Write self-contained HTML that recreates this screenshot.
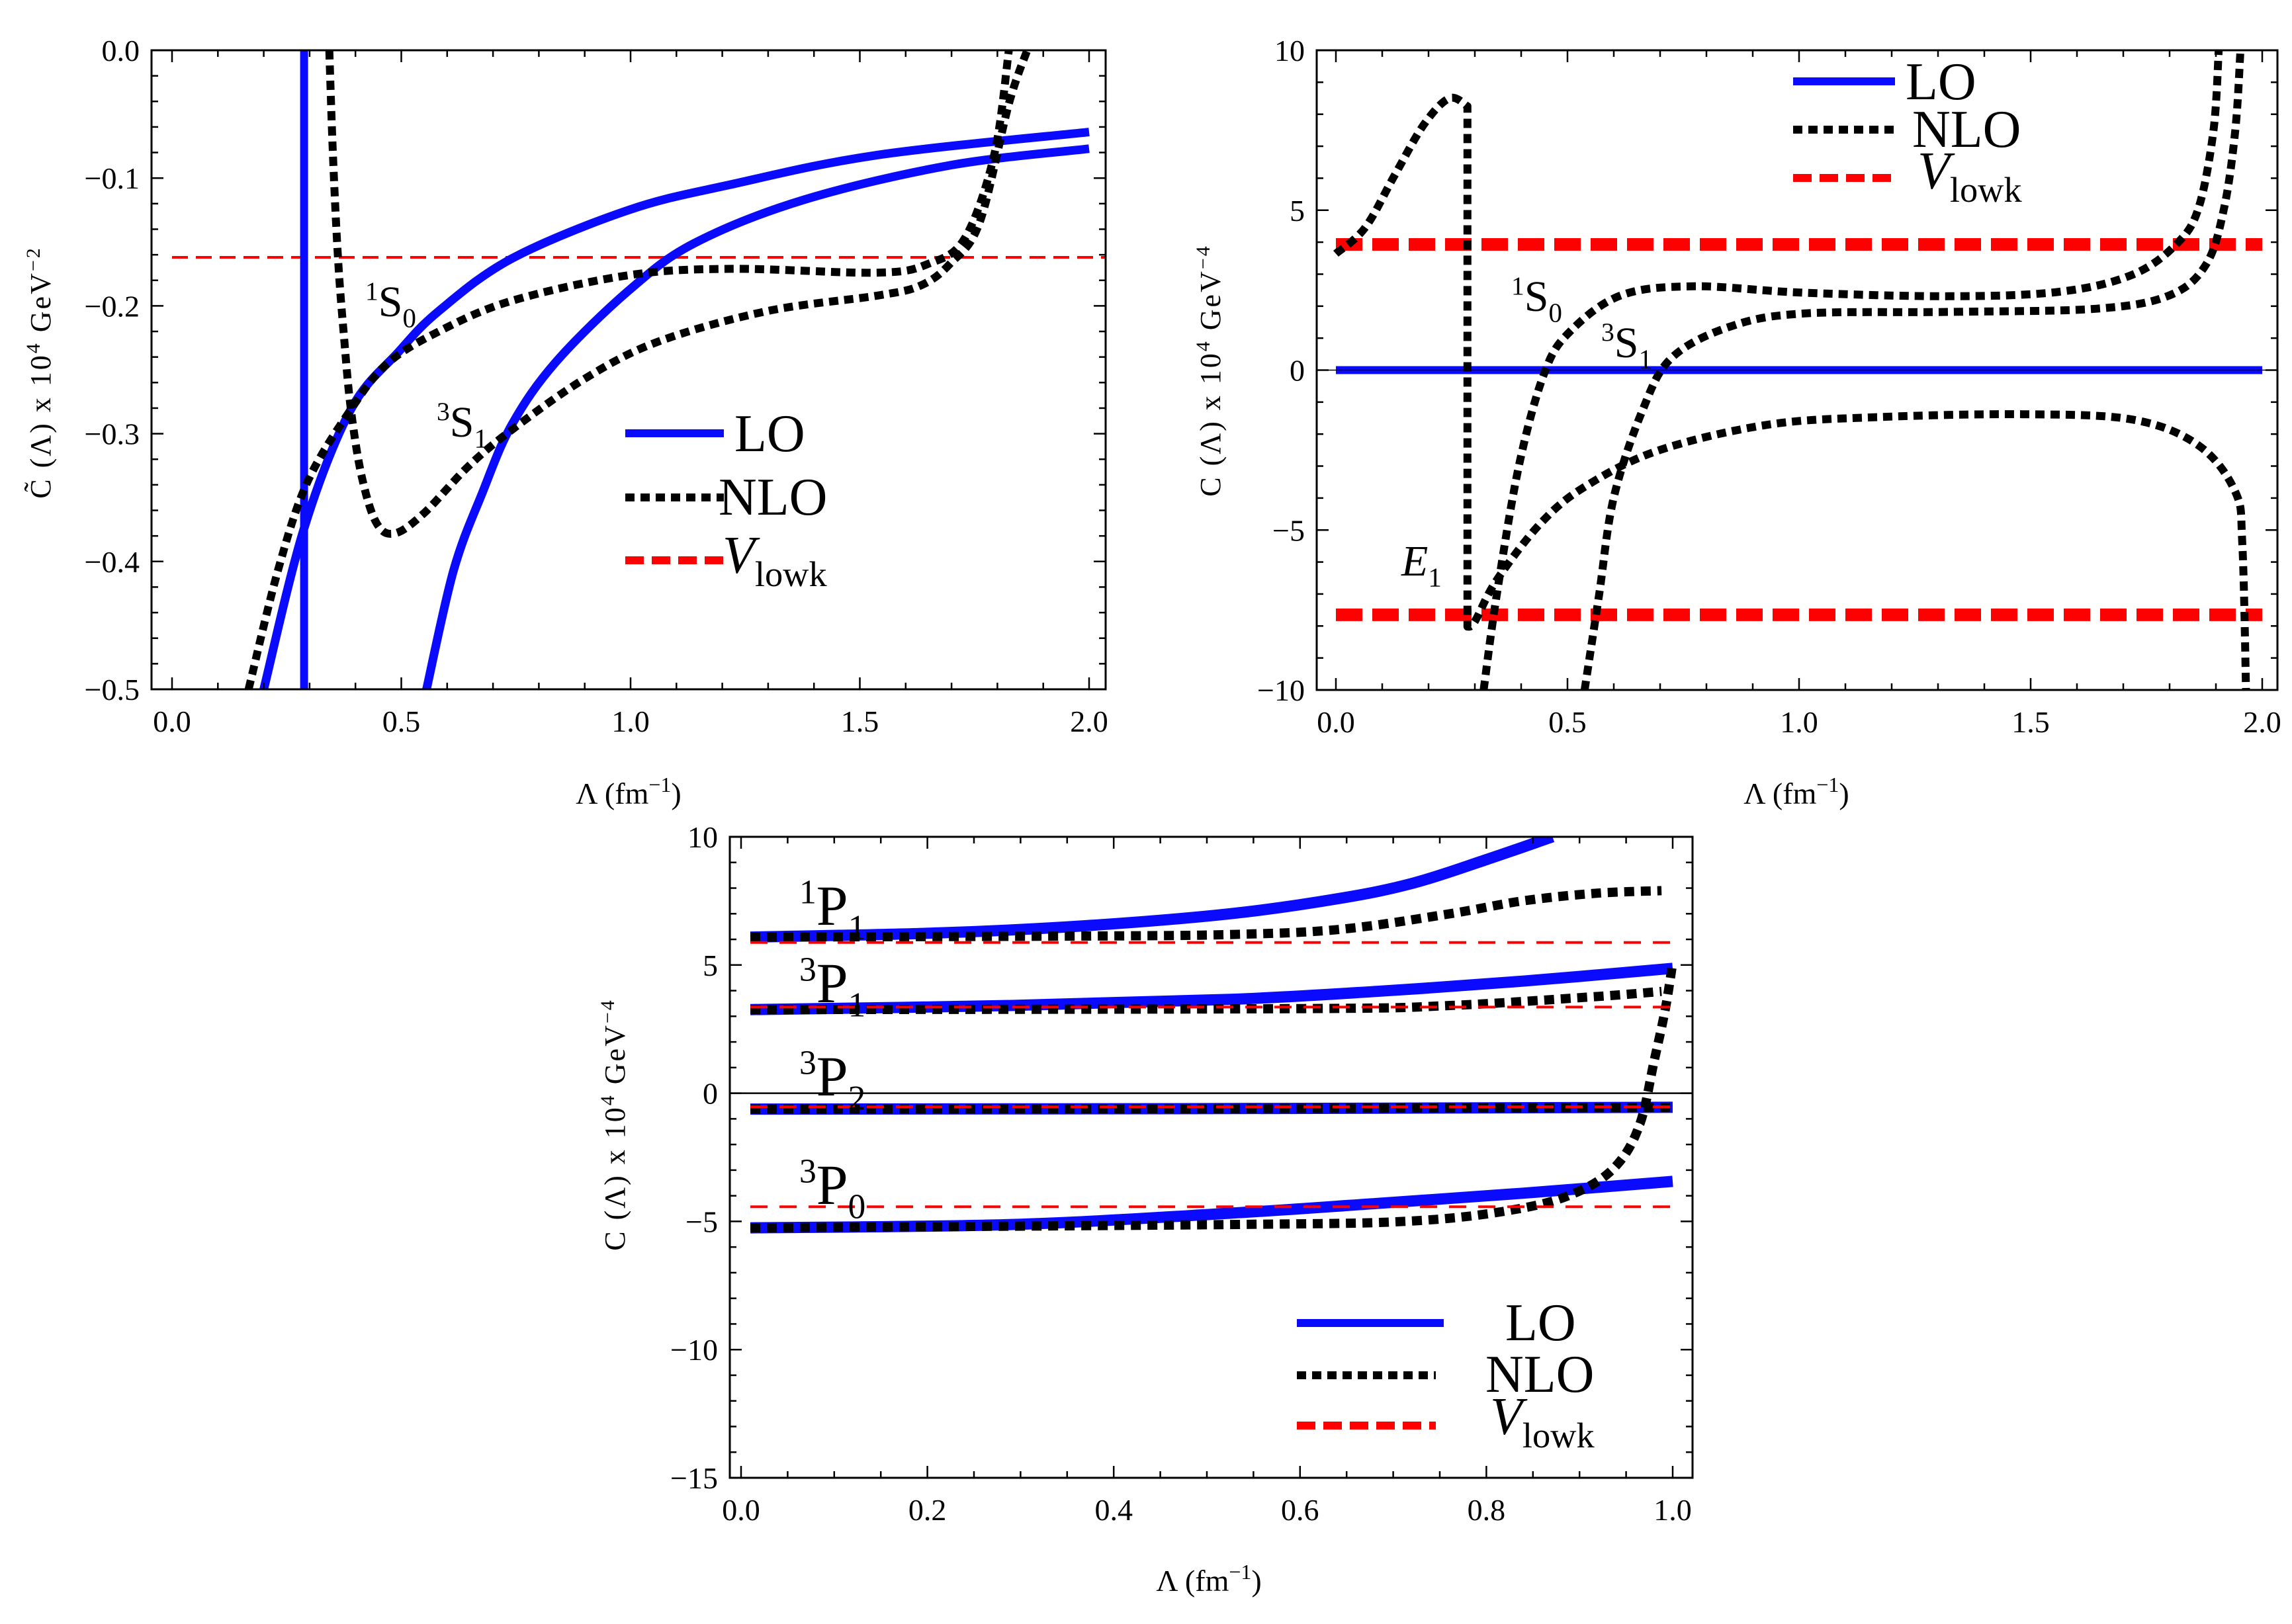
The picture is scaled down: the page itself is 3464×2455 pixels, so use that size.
<!DOCTYPE html>
<html><head><meta charset="utf-8"><style>
html,body{margin:0;padding:0;background:#fff;}
svg{display:block;font-family:"Liberation Serif",serif;}
</style></head><body>
<svg id="chart" width="3464" height="2455" viewBox="0 0 3464 2455" xmlns="http://www.w3.org/2000/svg">
<rect width="3464" height="2455" fill="#fff"/>
</svg>
<script>
// ---------- Panel 1 data (S-wave, C-tilde) ----------
const p1LO_1S0_x=[0.2,0.288,0.39,0.494,0.582,0.741,0.996,1.219,1.538,2.0];
const p1LO_1S0_y=[-0.5,-0.374,-0.281,-0.236,-0.204,-0.163,-0.125,-0.105,-0.082,-0.064];
const p1LO_3S1_x=[0.555,0.614,0.677,0.741,0.837,0.996,1.139,1.378,1.697,2.0];
const p1LO_3S1_y=[-0.5,-0.407,-0.346,-0.293,-0.244,-0.188,-0.151,-0.117,-0.09,-0.077];
const p1LO_pole_x=[0.288,0.288];
const p1LO_pole_y=[0,-0.5];
const p1NLO_1S0_x=[0.167,0.231,0.295,0.39,0.47,0.582,0.741,0.996,1.219,1.538,1.65,1.729,1.793,1.825];
const p1NLO_1S0_y=[-0.5,-0.407,-0.338,-0.281,-0.245,-0.22,-0.196,-0.176,-0.171,-0.174,-0.167,-0.147,-0.082,0];
const p1NLO_3S1_x=[0.343,0.351,0.362,0.375,0.39,0.414,0.446,0.486,0.55,0.645,0.741,0.9,1.06,1.299,1.538,1.633,1.697,1.761,1.825,1.865];
const p1NLO_3S1_y=[0,-0.082,-0.163,-0.224,-0.281,-0.334,-0.37,-0.378,-0.362,-0.326,-0.297,-0.257,-0.228,-0.204,-0.192,-0.184,-0.167,-0.135,-0.042,0];
const p1Vlowk=[-0.162];
const p1XTicks=["0.0","0.5","1.0","1.5","2.0"];
const p1YTicks=["0.0","\u22120.1","\u22120.2","\u22120.3","\u22120.4","\u22120.5"];

// ---------- Panel 2 data ----------
const p2LO_y=[0];
const p2NLO_E1_x=[0,0.063,0.126,0.19,0.245,0.284,0.284,0.3,0.347,0.442,0.537,0.695,0.931,1.168,1.484,1.721,1.863,1.942,1.957,1.965];
const p2NLO_E1_y=[3.64,4.45,6.07,7.68,8.5,8.25,-8.02,-7.86,-6.57,-4.79,-3.65,-2.52,-1.71,-1.47,-1.38,-1.55,-2.36,-3.81,-5.43,-10];
const p2NLO_1S0_x=[0.319,0.347,0.395,0.45,0.505,0.616,0.774,1.01,1.326,1.563,1.721,1.816,1.863,1.895,1.906];
const p2NLO_1S0_y=[-10,-7.05,-3.0,-0.09,1.2,2.34,2.62,2.42,2.31,2.45,2.99,3.96,5.09,7.52,10];
const p2NLO_3S1_x=[0.537,0.568,0.6,0.663,0.726,0.853,1.01,1.326,1.642,1.8,1.879,1.918,1.942,1.953];
const p2NLO_3S1_y=[-10,-7.05,-3.98,-1.22,0.4,1.37,1.77,1.82,1.92,2.34,3.31,5.09,7.52,10];
const p2Vlowk=[3.93,-7.65];
const p2XTicks=["0.0","0.5","1.0","1.5","2.0"];
const p2YTicks=["10","5","0","\u22125","\u221210"];

// ---------- Panel 3 data (P-waves) ----------
const p3LO_1P1_x=[0.01,0.212,0.369,0.525,0.643,0.722,0.8,0.871];
const p3LO_1P1_y=[6.09,6.25,6.53,7.0,7.6,8.2,9.11,10];
const p3NLO_1P1_x=[0.01,0.369,0.525,0.643,0.761,0.839,0.918,0.988];
const p3NLO_1P1_y=[6.09,6.13,6.19,6.39,7.0,7.5,7.8,7.9];
const p3LO_3P1_x=[0.01,0.29,0.525,0.682,0.839,1.0];
const p3LO_3P1_y=[3.26,3.42,3.66,3.97,4.37,4.87];
const p3NLO_3P1_x=[0.01,0.604,0.761,0.918,0.988];
const p3NLO_3P1_y=[3.26,3.3,3.42,3.77,3.97];
const p3LO_3P2_x=[0.01,0.5,1.0];
const p3LO_3P2_y=[-0.62,-0.6,-0.55];
const p3NLO_3P2_x=[0.01,0.5,1.0];
const p3NLO_3P2_y=[-0.62,-0.6,-0.55];
const p3LO_3P0_x=[0.01,0.29,0.525,0.682,0.839,1.0];
const p3LO_3P0_y=[-5.25,-5.12,-4.68,-4.3,-3.9,-3.44];
const p3NLO_3P0_x=[0.01,0.525,0.722,0.839,0.902,0.941,0.965,0.98,0.992,1.0];
const p3NLO_3P0_y=[-5.25,-5.12,-4.98,-4.48,-3.78,-2.76,-1.18,1.24,3.26,5.08];
const p3Vlowk=[5.88,3.36,-0.53,-4.43];
const p3XTicks=["0.0","0.2","0.4","0.6","0.8","1.0"];
const p3YTicks=["10","5","0","\u22125","\u221210","\u221215"];

const NS="http://www.w3.org/2000/svg";
const svg=document.getElementById('chart');
function mk(tag,attrs,parent){const e=document.createElementNS(NS,tag);for(const k in attrs)e.setAttribute(k,attrs[k]);(parent||svg).appendChild(e);return e;}

function makeAxis(d0,d1,p0,p1){return v=>p0+(v-d0)*(p1-p0)/(d1-d0);}

function smoothPath(xs,ys){
  const pts=xs.map((x,i)=>[x,ys[i]]);
  const n=pts.length;
  const vert=i=>i>=0&&i<n-1&&Math.abs(pts[i+1][0]-pts[i][0])<1;
  let d='M'+pts[0][0].toFixed(1)+','+pts[0][1].toFixed(1);
  for(let i=0;i<n-1;i++){
    let p0=pts[Math.max(0,i-1)],p1=pts[i],p2=pts[i+1],p3=pts[Math.min(n-1,i+2)];
    if(vert(i-1))p0=p1;
    if(vert(i+1))p3=p2;
    const t=vert(i)?0:1/6;
    const c1=[p1[0]+(p2[0]-p0[0])*t,p1[1]+(p2[1]-p0[1])*t];
    const c2=[p2[0]-(p3[0]-p1[0])*t,p2[1]-(p3[1]-p1[1])*t];
    d+=' C'+c1[0].toFixed(1)+','+c1[1].toFixed(1)+' '+c2[0].toFixed(1)+','+c2[1].toFixed(1)+' '+p2[0].toFixed(1)+','+p2[1].toFixed(1);
  }
  return d;
}

function drawCurve(g,X,Y,xs,ys,style,name){
  const p=mk('path',{d:smoothPath(xs.map(X),ys.map(Y)),fill:'none',stroke:style.c,'stroke-width':style.w,'stroke-dasharray':style.dash||'none','stroke-linejoin':'round'},g);
  
  
}

function frame(cfg){
  const g=mk('g',{});
  
  
  const clipId=cfg.name+'-clip';
  const cp=mk('clipPath',{id:clipId},g);
  mk('rect',{x:cfg.L,y:cfg.T,width:cfg.R-cfg.L,height:cfg.B-cfg.T},cp);
  const plot=mk('g',{'clip-path':'url(#'+clipId+')'},g);
  
  
  const fr=mk('rect',{x:cfg.L,y:cfg.T,width:cfg.R-cfg.L,height:cfg.B-cfg.T,fill:'none',stroke:'#000','stroke-width':3},g);
  
  
  const xt=mk('g',{},g);
  
  
  for(let v=cfg.xmin;v<=cfg.xmax+1e-9;v+=cfg.xminor){
    const k=Math.round((v-cfg.xmin)/cfg.xminor);
    const major=k%cfg.xper===0;
    const len=major?18:10;const x=cfg.X(v);
    mk('line',{x1:x,x2:x,y1:cfg.B,y2:cfg.B-len,stroke:'#000','stroke-width':2.5},xt);
    mk('line',{x1:x,x2:x,y1:cfg.T,y2:cfg.T+len,stroke:'#000','stroke-width':2.5},xt);
  }
  cfg.xlabels.forEach((s,i)=>{
    const t=mk('text',{x:cfg.X(cfg.xmin+i*cfg.xminor*cfg.xper),y:cfg.B+64,'font-size':46,'text-anchor':'middle'},xt);
    t.textContent=s;
    
    
  });
  const yt=mk('g',{},g);
  
  
  for(let v=cfg.ymin;v<=cfg.ymax+1e-9;v+=cfg.yminor){
    const k=Math.round((v-cfg.ymin)/cfg.yminor);
    const major=k%cfg.yper===0;
    const len=major?18:10;const y=cfg.Y(v);
    mk('line',{x1:cfg.L,x2:cfg.L+len,y1:y,y2:y,stroke:'#000','stroke-width':2.5},yt);
    mk('line',{x1:cfg.R,x2:cfg.R-len,y1:y,y2:y,stroke:'#000','stroke-width':2.5},yt);
  }
  cfg.ylabels.forEach((s,i)=>{
    const t=mk('text',{x:cfg.L-18,y:cfg.Y(cfg.ymax-i*cfg.yminor*cfg.yper)+16,'font-size':46,'text-anchor':'end'},yt);
    t.textContent=s;
    
    
  });
  const xtt=mk('text',{x:cfg.xtx,y:cfg.xty,'font-size':46,'text-anchor':'middle'},g);
  xtt.innerHTML='\u039B (fm<tspan dy="-18" font-size="32">\u22121</tspan><tspan dy="18">)</tspan>';
  
  
  const ytt=mk('text',{x:0,y:0,'font-size':44,'text-anchor':'middle',transform:'translate('+cfg.ytx+','+cfg.yty+') rotate(-90)','letter-spacing':'3'},g);
  ytt.innerHTML=cfg.ytitle;
  
  
  return plot;
}

function label(x,y,sup,main,sub,fs,italic,name){
  const t=mk('text',{x:x,y:y,'font-size':fs});
  let h='';
  if(sup)h+='<tspan dy="-'+(fs*0.38)+'" font-size="'+(fs*0.6)+'">'+sup+'</tspan><tspan dy="'+(fs*0.38)+'"'+(italic?' font-style="italic"':'')+'>'+main+'</tspan>';
  else h+='<tspan'+(italic?' font-style="italic"':'')+'>'+main+'</tspan>';
  if(sub)h+='<tspan dy="'+(fs*0.25)+'" font-size="'+(fs*0.62)+'">'+sub+'</tspan>';
  t.innerHTML=h;
  
  
}

function legend(items,name){
  const g=mk('g',{});
  
  
  items.forEach(it=>{
    const ln=mk('line',{x1:it.x1,x2:it.x2,y1:it.y,y2:it.y,stroke:it.c,'stroke-width':it.w,'stroke-dasharray':it.dash||'none'},g);
    
    
    const t=mk('text',{x:it.tx,y:it.ty,'font-size':it.fs},g);
    if(it.key==='vlowk')t.innerHTML='<tspan font-style="italic">V</tspan><tspan dy="'+(it.fs*0.25)+'" font-size="'+(it.fs*0.68)+'">lowk</tspan>';
    else t.textContent=it.text;
    
    
  });
}

const BLUE='#0a0aff',RED='#ff0000';
const nloStyle={c:'#000',w:12,dash:'14 9'};

// ===== Panel 1 =====
{
  const X=makeAxis(0,2,260,1646),Y=makeAxis(0,-0.5,76,1042);
  const cfg={name:'panel-s-wave-ctilde',L:229,R:1671,T:76,B:1042,X,Y,xmin:0,xmax:2.03,xminor:0.1,xper:5,ymin:-0.5,ymax:0,yminor:0.02,yper:5,
    xlabels:p1XTicks,ylabels:p1YTicks,xtx:950,xty:1215,ytx:76,yty:563,
    ytitle:'C\u0303 (\u039B) x 10<tspan dy="-16" font-size="30">4</tspan><tspan dy="16"> GeV</tspan><tspan dy="-16" font-size="30">\u22122</tspan>'};
  const plot=frame(cfg);
  p1Vlowk.forEach(v=>{const l=mk('line',{x1:X(0),x2:cfg.R,y1:Y(v),y2:Y(v),stroke:RED,'stroke-width':4,'stroke-dasharray':'24 12'},plot);});
  drawCurve(plot,X,Y,p1LO_pole_x,p1LO_pole_y,{c:BLUE,w:12},'lo-pole-line');
  drawCurve(plot,X,Y,p1LO_1S0_x,p1LO_1S0_y,{c:BLUE,w:13},'lo-1s0-curve');
  drawCurve(plot,X,Y,p1LO_3S1_x,p1LO_3S1_y,{c:BLUE,w:13},'lo-3s1-curve');
  drawCurve(plot,X,Y,p1NLO_1S0_x,p1NLO_1S0_y,nloStyle,'nlo-1s0-curve');
  drawCurve(plot,X,Y,p1NLO_3S1_x,p1NLO_3S1_y,nloStyle,'nlo-3s1-curve');
  label(552,478,'1','S','0',66,false,'label-1s0');
  label(660,660,'3','S','1',66,false,'label-3s1');
  legend([
    {key:'lo',text:'LO',x1:945,x2:1094,y:655,c:BLUE,w:12,tx:1110,ty:682,fs:80},
    {key:'nlo',text:'NLO',x1:945,x2:1094,y:752,c:'#000',w:12,dash:'14 9',tx:1086,ty:778,fs:80},
    {key:'vlowk',text:'Vlowk',x1:945,x2:1094,y:847,c:RED,w:12,dash:'28 12',tx:1092,ty:866,fs:80}
  ],'legend-panel-1');
}

// ===== Panel 2 =====
{
  const X=makeAxis(0,2,2019,3419),Y=makeAxis(10,-10,76,1043);
  const cfg={name:'panel-s-wave-c',L:1990,R:3442,T:76,B:1043,X,Y,xmin:0,xmax:2.03,xminor:0.1,xper:5,ymin:-10,ymax:10,yminor:1,yper:5,
    xlabels:p2XTicks,ylabels:p2YTicks,xtx:2715,xty:1215,ytx:1844,yty:560,
    ytitle:'C (\u039B) x 10<tspan dy="-16" font-size="30">4</tspan><tspan dy="16"> GeV</tspan><tspan dy="-16" font-size="30">\u22124</tspan>'};
  const plot=frame(cfg);
  p2Vlowk.forEach(v=>{const l=mk('line',{x1:X(0),x2:X(2),y1:Y(v),y2:Y(v),stroke:RED,'stroke-width':19,'stroke-dasharray':'40 15'},plot);});
  p2LO_y.forEach(v=>{const l=mk('line',{x1:X(0),x2:X(2),y1:Y(v),y2:Y(v),stroke:BLUE,'stroke-width':12},plot);});
  const zl=mk('line',{x1:cfg.L,x2:cfg.R,y1:Y(0),y2:Y(0),stroke:'#000','stroke-width':1.5},plot);
  
  drawCurve(plot,X,Y,p2NLO_E1_x,p2NLO_E1_y,nloStyle,'nlo-e1-curve');
  drawCurve(plot,X,Y,p2NLO_1S0_x,p2NLO_1S0_y,nloStyle,'nlo-1s0-curve');
  drawCurve(plot,X,Y,p2NLO_3S1_x,p2NLO_3S1_y,nloStyle,'nlo-3s1-curve');
  label(2284,470,'1','S','0',66,false,'label-1s0');
  label(2420,540,'3','S','1',66,false,'label-3s1');
  label(2118,870,null,'E','1',66,true,'label-e1');
  legend([
    {key:'lo',text:'LO',x1:2710,x2:2864,y:123,c:BLUE,w:12,tx:2880,ty:150,fs:80},
    {key:'nlo',text:'NLO',x1:2710,x2:2864,y:196,c:'#000',w:12,dash:'14 9',tx:2890,ty:222,fs:80},
    {key:'vlowk',text:'Vlowk',x1:2710,x2:2864,y:269,c:RED,w:12,dash:'28 12',tx:2898,ty:285,fs:80}
  ],'legend-panel-2');
}

// ===== Panel 3 =====
{
  const X=makeAxis(0,1,1120,2528),Y=makeAxis(10,-15,1265,2234);
  const cfg={name:'panel-p-wave',L:1103,R:2558,T:1265,B:2234,X,Y,xmin:0,xmax:1.02,xminor:0.05,xper:4,ymin:-15,ymax:10,yminor:1,yper:5,
    xlabels:p3XTicks,ylabels:p3YTicks,xtx:1827,xty:2405,ytx:944,yty:1700,
    ytitle:'C (\u039B) x 10<tspan dy="-16" font-size="30">4</tspan><tspan dy="16"> GeV</tspan><tspan dy="-16" font-size="30">\u22124</tspan>'};
  const plot=frame(cfg);
  const zl=mk('line',{x1:cfg.L,x2:cfg.R,y1:Y(0),y2:Y(0),stroke:'#000','stroke-width':2.5},plot);
  
  const blue3={c:BLUE,w:17},nlo3={c:'#000',w:14,dash:'15 10'};
  drawCurve(plot,X,Y,p3LO_1P1_x,p3LO_1P1_y,blue3,'lo-1p1-curve');
  drawCurve(plot,X,Y,p3LO_3P1_x,p3LO_3P1_y,blue3,'lo-3p1-curve');
  drawCurve(plot,X,Y,p3LO_3P2_x,p3LO_3P2_y,blue3,'lo-3p2-curve');
  drawCurve(plot,X,Y,p3LO_3P0_x,p3LO_3P0_y,blue3,'lo-3p0-curve');
  drawCurve(plot,X,Y,p3NLO_1P1_x,p3NLO_1P1_y,nlo3,'nlo-1p1-curve');
  drawCurve(plot,X,Y,p3NLO_3P1_x,p3NLO_3P1_y,nlo3,'nlo-3p1-curve');
  drawCurve(plot,X,Y,p3NLO_3P2_x,p3NLO_3P2_y,nlo3,'nlo-3p2-curve');
  drawCurve(plot,X,Y,p3NLO_3P0_x,p3NLO_3P0_y,nlo3,'nlo-3p0-curve');
  p3Vlowk.forEach(v=>{const l=mk('line',{x1:X(0.01),x2:X(1.0),y1:Y(v),y2:Y(v),stroke:RED,'stroke-width':4,'stroke-dasharray':'26 18'},plot);});
  label(1208,1398,'1','P','1',86,false,'label-1p1');
  label(1208,1515,'3','P','1',86,false,'label-3p1');
  label(1208,1656,'3','P','2',86,false,'label-3p2');
  label(1208,1820,'3','P','0',86,false,'label-3p0');
  legend([
    {key:'lo',text:'LO',x1:1960,x2:2182,y:2000,c:BLUE,w:12,tx:2275,ty:2026,fs:80},
    {key:'nlo',text:'NLO',x1:1960,x2:2170,y:2079,c:'#000',w:12,dash:'14 9',tx:2245,ty:2104,fs:80},
    {key:'vlowk',text:'Vlowk',x1:1960,x2:2170,y:2155,c:RED,w:12,dash:'28 12',tx:2252,ty:2168,fs:80}
  ],'legend-panel-3');
}
</script>
</body></html>
